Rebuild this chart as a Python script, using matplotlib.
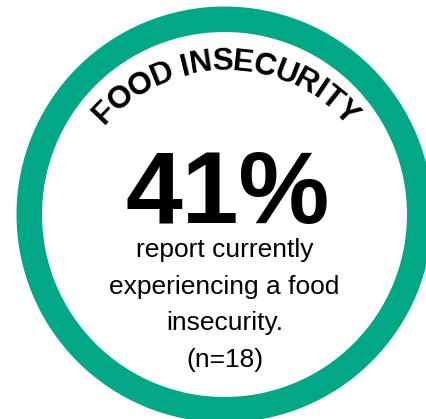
# food insecurity stat badge
import numpy as np
import matplotlib
matplotlib.use('Agg')
import matplotlib.pyplot as plt
from matplotlib.patches import Wedge
from matplotlib.font_manager import FontProperties

# data
title = 'FOOD INSECURITY'
pct_value = 41
n_resp = 18
desc_lines = ['report currently', 'experiencing a food', 'insecurity.']

teal = '#02A886'
W, H = 427, 419

fig = plt.figure(figsize=(W / 100, H / 100), dpi=100)
ax = fig.add_axes([0, 0, 1, 1])
ax.set_xlim(0, W)
ax.set_ylim(H, 0)
ax.set_aspect('equal')
ax.axis('off')

# ring
cx, cy = 224.5, 214.5
r_out, ring_w = 208, 25.5
ax.add_patch(Wedge((cx, cy), r_out, 0, 360, width=ring_w, color=teal, lw=0))

# curved title - arc is a bit flatter than the ring, letters set tight
fp = FontProperties(family='Liberation Sans', weight='bold', size=22.5)
renderer = fig.canvas.get_renderer()
widths = [0.95 * renderer.get_text_width_height_descent(c if c != ' ' else 'I', fp, ismath=False)[0]
          for c in title]
r_text = 160
tcy = 70 + r_text
total = sum(widths)
theta = -total / 2 / r_text
for c, w in zip(title, widths):
    a = theta + w / 2 / r_text
    x = cx + 1 + r_text * np.sin(a)
    y = tcy - r_text * np.cos(a)
    if c != ' ':
        ax.text(x, y, c, fontproperties=fp, ha='center', va='baseline',
                rotation=-np.degrees(a), rotation_mode='anchor', color='black')
    theta += w / r_text

# big number
ax.text(228, 223, f'{pct_value}%', family='Liberation Sans', weight='bold',
        fontsize=73.5, ha='center', va='baseline', color='black')

# description
body = desc_lines + [f'(n={n_resp})']
for i, line in enumerate(body):
    ax.text(cx, 257 + i * 36.7, line, family='Liberation Sans', fontsize=19,
            ha='center', va='baseline', color='black')

fig.savefig('out.png', dpi=100, facecolor='white')
